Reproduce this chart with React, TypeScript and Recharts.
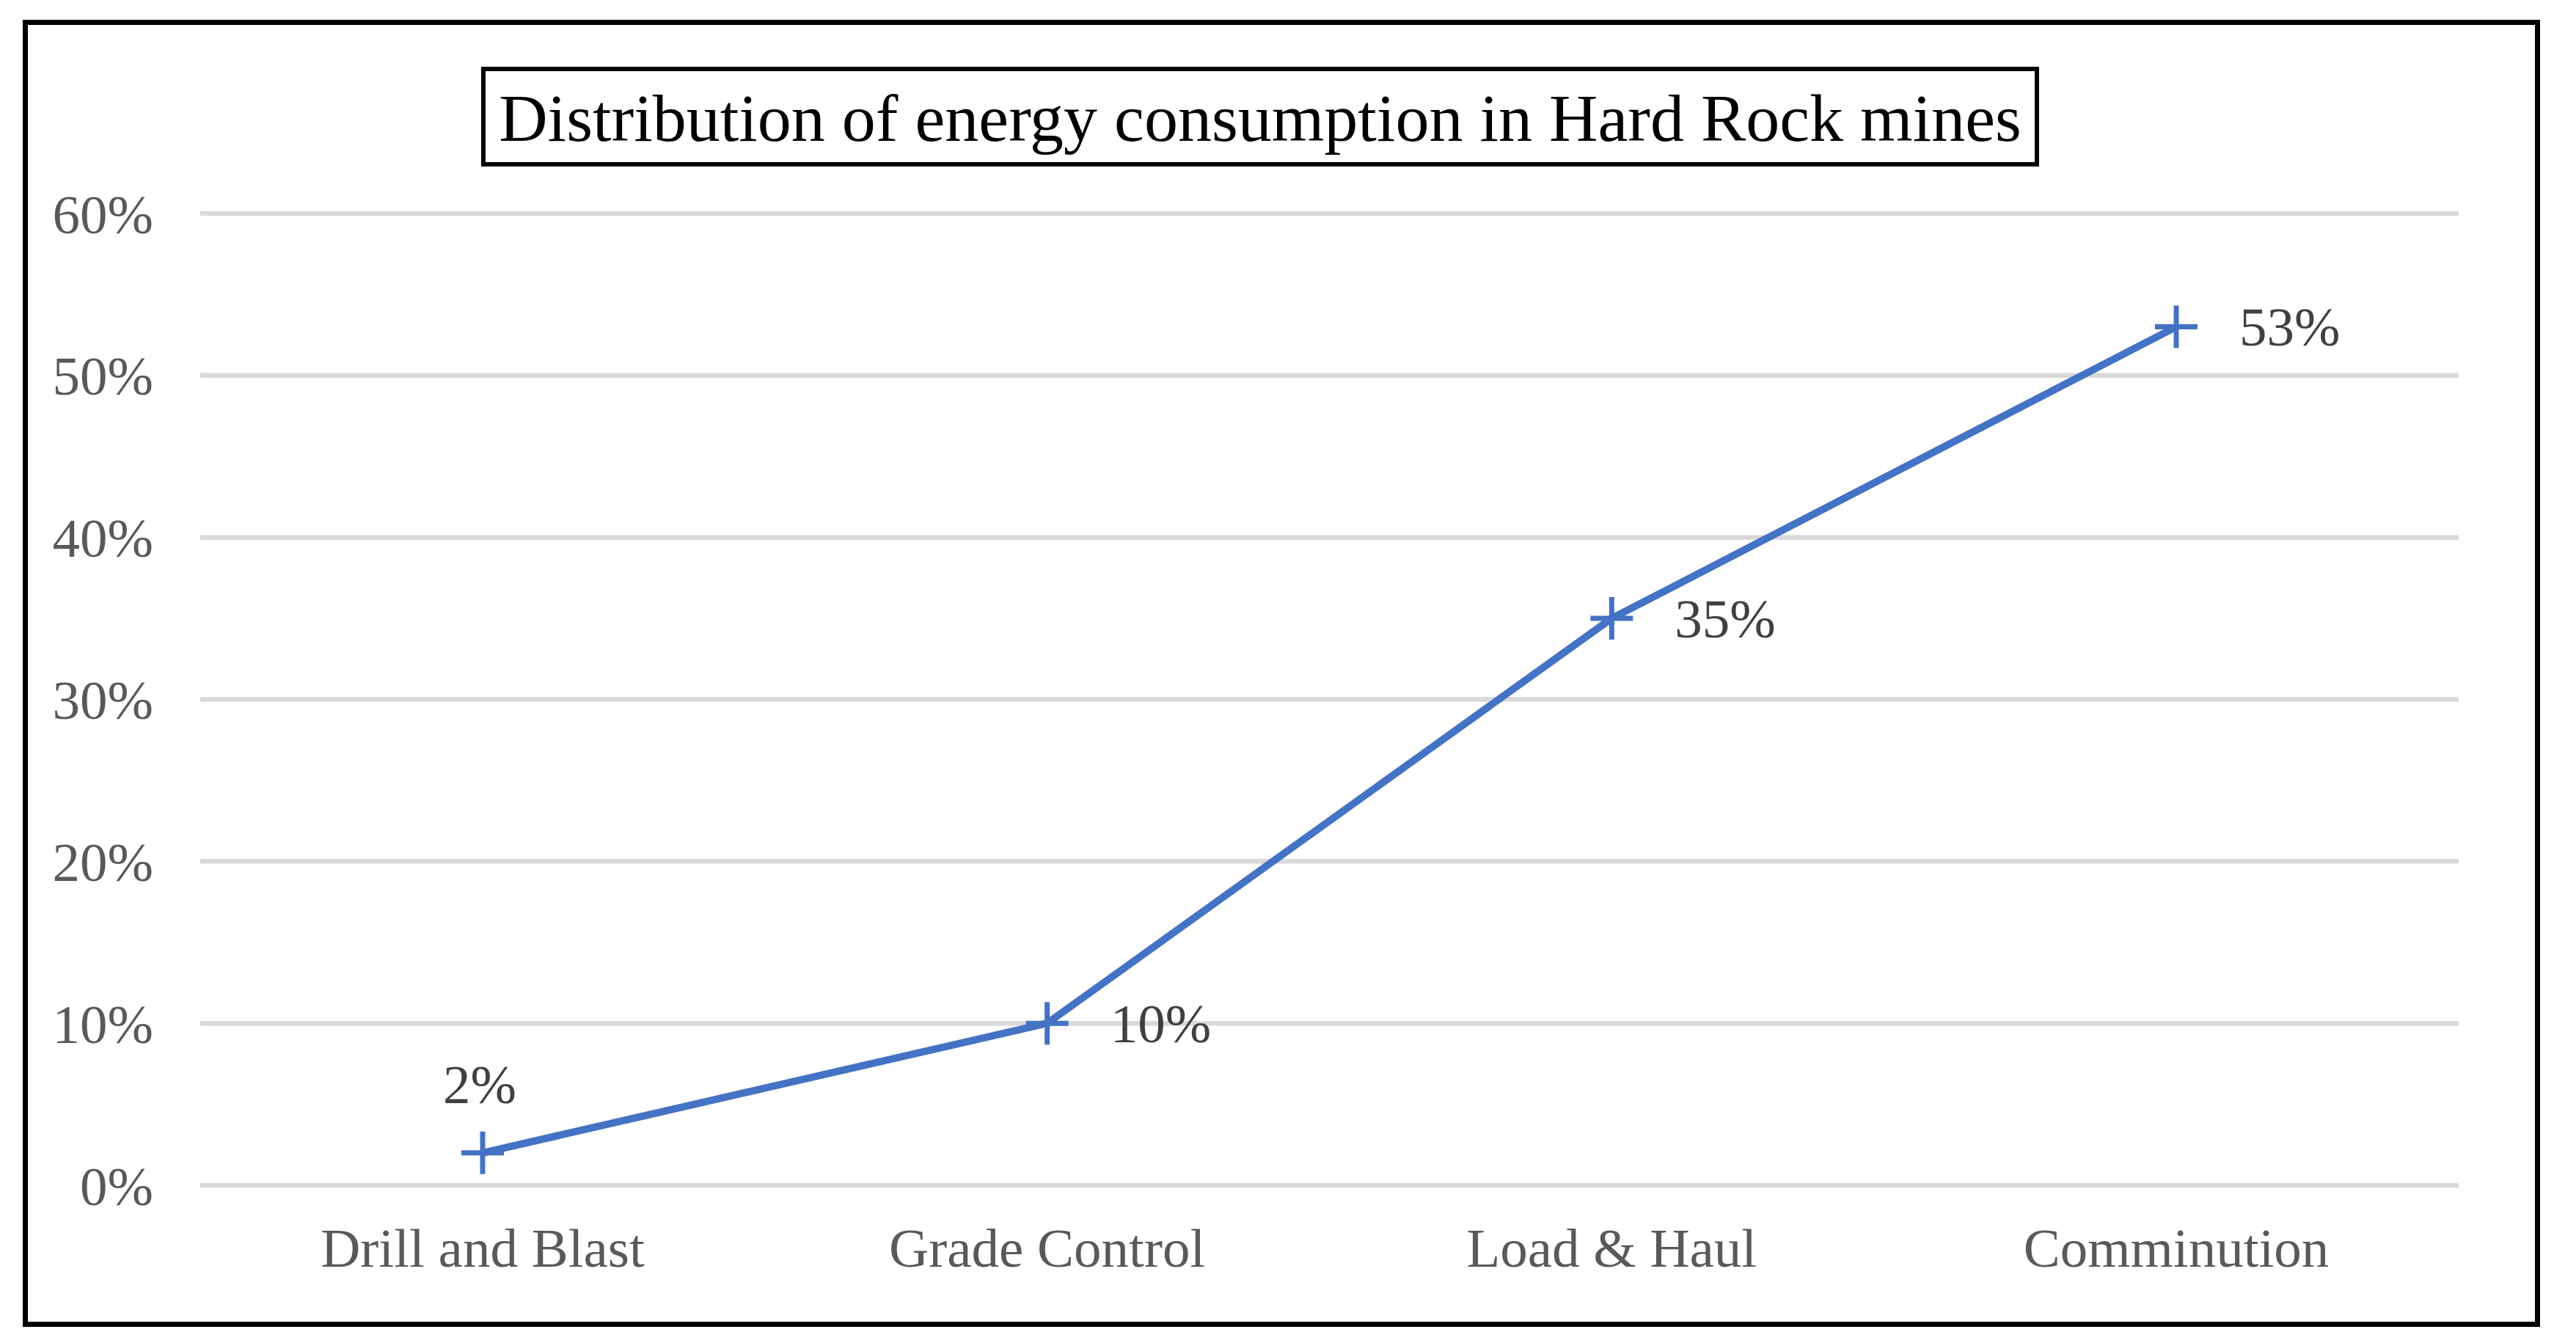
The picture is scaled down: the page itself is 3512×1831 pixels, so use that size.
import { LineChart, Line, XAxis, YAxis, CartesianGrid } from 'recharts';

const categories = ['Drill and Blast', 'Grade Control', 'Load & Haul', 'Comminution'];
const shares = [2, 10, 35, 53];
const yTicks = [0, 10, 20, 30, 40, 50, 60];
const title = 'Distribution of energy consumption in Hard Rock mines';

const data = categories.map((name, i) => ({ name, share: shares[i] }));

const FONT = '"Liberation Serif", "Times New Roman", serif';
const BLUE = '#4472c4';

// plus-shaped marker with the value label next to it (first one sits above)
const CrossDot = (props: any) => {
  const { cx, cy, index, payload } = props;
  if (cx == null || cy == null) return null;
  const above = index === 0;
  return (
    <g key={`dot-${index}`}>
      <path
        d={`M${cx - 29},${cy}H${cx + 29}M${cx},${cy - 29}V${cy + 29}`}
        stroke={BLUE}
        strokeWidth={7}
        fill="none"
      />
      <text
        x={above ? cx - 4 : cx + 86}
        y={above ? cy - 68 : cy}
        textAnchor={above ? 'middle' : 'start'}
        dominantBaseline={above ? 'auto' : 'central'}
        fill="#404040"
        fontSize={75}
        fontFamily={FONT}
      >
        {`${payload.share}%`}
      </text>
    </g>
  );
};

const tickStyle = { fill: '#595959', fontSize: 75, fontFamily: FONT };

export default function App() {
  return (
    <div style={{ position: 'absolute', left: 0, top: 0, width: 3512, height: 1831, background: '#fff', fontFamily: FONT }}>
      <div style={{ position: 'absolute', left: 0, top: 0 }}>
        <LineChart width={3512} height={1831} data={data} margin={{ top: 291, right: 160, bottom: 65, left: 73 }}>
          <CartesianGrid vertical={false} stroke="#d9d9d9" strokeWidth={6.5} />
          <XAxis
            dataKey="name"
            interval={0}
            axisLine={false}
            tickLine={false}
            tickSize={0}
            tickMargin={58}
            height={150}
            padding={{ left: 385, right: 385 }}
            tick={tickStyle}
          />
          <YAxis
            domain={[0, 60]}
            ticks={yTicks}
            tickFormatter={(v) => `${v}%`}
            axisLine={false}
            tickLine={false}
            tickSize={0}
            tickMargin={64}
            width={200}
            tick={tickStyle}
          />
          <Line
            type="linear"
            dataKey="share"
            stroke={BLUE}
            strokeWidth={10}
            dot={CrossDot}
            activeDot={false}
            isAnimationActive={false}
          />
        </LineChart>
      </div>
      <div
        style={{
          position: 'absolute', left: 31, top: 27, width: 3432, height: 1782,
          border: '7px solid #000', boxSizing: 'border-box', pointerEvents: 'none',
        }}
      />
      <div
        style={{
          position: 'absolute', left: 656, top: 91, width: 2124, height: 136,
          border: '6px solid #000', boxSizing: 'border-box', background: '#fff',
          display: 'flex', alignItems: 'center', justifyContent: 'center',
          fontSize: 92, color: '#000', paddingTop: 4, whiteSpace: 'nowrap',
        }}
      >
        {title}
      </div>
    </div>
  );
}
